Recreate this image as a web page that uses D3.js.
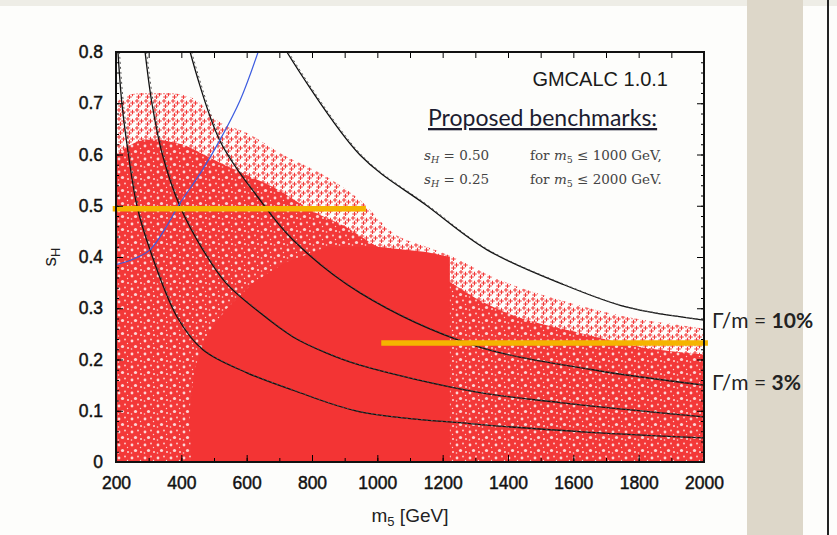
<!DOCTYPE html>
<html>
<head>
<meta charset="utf-8">
<script src="https://cdn.jsdelivr.net/npm/d3@7"></script>
<style>
  html, body { margin: 0; padding: 0; background: #fdfdfb; }
  svg { display: block; }
</style>
</head>
<body>
<svg id="chart" width="837" height="535"></svg>
<script>
// axis ticks
const xTicks = [200, 400, 600, 800, 1000, 1200, 1400, 1600, 1800, 2000];
const xMinor = d3.range(200, 2001, 100);
const yTicks = [0, 0.1, 0.2, 0.3, 0.4, 0.5, 0.6, 0.7, 0.8];
const yMinor = d3.range(0, 0.801, 0.02);

// upper edge of the scanned points (m5, sH)
const regionTop = [[200, 0.70], [230, 0.715], [280, 0.72], [356, 0.72], [436, 0.71], [509, 0.667],
  [601, 0.642], [702, 0.603], [846, 0.556], [947, 0.511], [1048, 0.447], [1150, 0.42],
  [1232, 0.40], [1354, 0.361], [1559, 0.316], [1764, 0.283], [1970, 0.263], [2000, 0.26]];
// below this the points fill most of the area
const midTop = [[200, 0.60], [300, 0.63], [400, 0.62], [500, 0.59], [600, 0.56], [700, 0.53],
  [800, 0.49], [900, 0.46], [1000, 0.42], [1100, 0.39], [1200, 0.36], [1300, 0.32], [1400, 0.29],
  [1600, 0.255], [1800, 0.225], [2000, 0.21]];
// nearly solid part
const denseZone = [[430, 0], [425, 0.1], [440, 0.18], [480, 0.25], [540, 0.30], [620, 0.35],
  [720, 0.39], [850, 0.42], [1000, 0.42], [1150, 0.41], [1222, 0.40], [1222, 0]];

// Gamma/m contour lines
const contour1 = [[206, 0.8], [218, 0.7], [238, 0.6], [264, 0.5], [304, 0.414], [387, 0.283],
  [466, 0.219], [601, 0.174], [742, 0.140], [947, 0.098], [1300, 0.074], [1650, 0.058], [2000, 0.047]];
const contour2 = [[289, 0.8], [310, 0.7], [342, 0.6], [395, 0.5], [466, 0.414], [537, 0.349],
  [641, 0.291], [742, 0.244], [843, 0.213], [947, 0.189], [1300, 0.137], [1559, 0.116], [2000, 0.088]];
const contour3 = [[427, 0.8], [518, 0.627], [641, 0.511], [742, 0.433], [947, 0.330], [1293, 0.228],
  [1660, 0.18], [2000, 0.150]];
const contour4 = [[723, 0.8], [947, 0.599], [1152, 0.5], [1336, 0.414], [1559, 0.349], [1764, 0.302],
  [2000, 0.277]];
const contours = [contour1, contour2, contour3, contour4];

// blue constraint line
const blueLine = [[200, 0.385], [250, 0.395], [304, 0.414], [350, 0.455], [396, 0.505], [460, 0.565],
  [518, 0.628], [580, 0.706], [635, 0.8]];

// proposed benchmark segments
const benchmarks = [{ from: 190, to: 965, s: 0.494 }, { from: 1012, to: 2012, s: 0.232 }];

const widthLabels = [{ s: 0.275, pre: "Γ/m = ", val: "10%" }, { s: 0.154, pre: "Γ/m = ", val: "3%" }];

const svg = d3.select("#chart");
const W = 837, H = 535;
const margin = { top: 52, left: 116, right: 133, bottom: 73 };

// page decoration
svg.append("rect").attr("width", W).attr("height", H).attr("fill", "#fdfdfb");
svg.append("rect").attr("width", W).attr("height", 6).attr("fill", "#eeede6");
svg.append("rect").attr("x", 747).attr("y", 0).attr("width", 56).attr("height", H).attr("fill", "#ddd7c9");
svg.append("rect").attr("x", 827).attr("y", 0).attr("width", 2).attr("height", H).attr("fill", "#222");

const x = d3.scaleLinear().domain([200, 2000]).range([margin.left, W - margin.right]);
const y = d3.scaleLinear().domain([0, 0.8]).range([H - margin.bottom, margin.top]);

const defs = svg.append("defs");
defs.append("clipPath").attr("id", "plotclip")
  .append("rect").attr("x", x(200)).attr("y", y(0.8)).attr("width", x(2000) - x(200)).attr("height", y(0) - y(0.8));

// loose crosses near the edge of the scan
const sparse = defs.append("pattern").attr("id", "sparse").attr("patternUnits", "userSpaceOnUse")
  .attr("width", 9).attr("height", 9);
[[2, 2], [6.5, 4], [3.5, 7]].forEach(([cx, cy]) => {
  sparse.append("path")
    .attr("d", `M${cx - 2.3},${cy}H${cx + 2.3}M${cx},${cy - 2.3}V${cy + 2.3}`)
    .attr("stroke", "#f33a3a").attr("stroke-width", 1.1);
});

// red with white speckles
const speck = defs.append("pattern").attr("id", "speck").attr("patternUnits", "userSpaceOnUse")
  .attr("width", 13).attr("height", 13);
speck.append("rect").attr("width", 13).attr("height", 13).attr("fill", "#f33838");
[[2, 3, 1.4], [8, 1.5, 0.9], [5.5, 8.5, 1.6], [11, 10, 1.0], [10.5, 5.5, 0.7], [1.5, 11, 0.8]].forEach(([cx, cy, r]) => {
  speck.append("circle").attr("cx", cx).attr("cy", cy).attr("r", r).attr("fill", "#fcd6d6");
});

const plot = svg.append("g").attr("clip-path", "url(#plotclip)");

const area = d3.area().x(d => x(d[0])).y0(y(0)).y1(d => y(d[1])).curve(d3.curveMonotoneX);
plot.append("path").datum(regionTop).attr("d", area).attr("fill", "url(#sparse)");
plot.append("path").datum(midTop).attr("d", area).attr("fill", "url(#speck)");
plot.append("path").datum(denseZone)
  .attr("d", d3.line().x(d => x(d[0])).y(d => y(d[1])).curve(d3.curveLinearClosed))
  .attr("fill", "#f33434");

const line = d3.line().x(d => x(d[0])).y(d => y(d[1])).curve(d3.curveCatmullRom);
plot.selectAll(".contour").data(contours).join("path")
  .attr("class", "contour")
  .attr("d", line).attr("fill", "none").attr("stroke", "#111").attr("stroke-width", 1.3);
plot.selectAll(".contourDash").data(contours).join("path")
  .attr("class", "contourDash")
  .attr("d", line).attr("fill", "none").attr("stroke", "#555").attr("stroke-width", 1)
  .attr("stroke-dasharray", "2 3").attr("transform", "translate(1.5,0)");

plot.append("path").datum(blueLine).attr("d", line)
  .attr("fill", "none").attr("stroke", "#3c5ce0").attr("stroke-width", 1.2);

// benchmark bars (not clipped, right one pokes past the frame)
svg.selectAll(".bench").data(benchmarks).join("line")
  .attr("class", "bench")
  .attr("x1", d => x(d.from)).attr("x2", d => x(d.to))
  .attr("y1", d => y(d.s)).attr("y2", d => y(d.s))
  .attr("stroke", "#f5b400").attr("stroke-width", 5.5);

// axes with inward ticks
const tickFont = g => g.selectAll("text")
  .attr("font-family", "Liberation Sans, Arial, sans-serif").attr("font-size", 17.5)
  .attr("fill", "#111").attr("stroke", "#111").attr("stroke-width", 0.45);

const fmtY = d => d === 0 ? "0" : d3.format(".1f")(d);
svg.append("g").attr("transform", `translate(${x(200)},0)`)
  .call(d3.axisLeft(y).tickValues(yTicks).tickSize(-7).tickPadding(13).tickFormat(fmtY))
  .call(tickFont).call(g => g.select(".domain").remove());
svg.append("g").attr("transform", `translate(${x(200)},0)`)
  .call(d3.axisLeft(y).tickValues(yMinor).tickSize(-3).tickFormat(""))
  .call(g => g.select(".domain").remove());
svg.append("g").attr("transform", `translate(${x(2000)},0)`)
  .call(d3.axisRight(y).tickValues(yTicks).tickSize(-7).tickFormat(""))
  .call(g => g.select(".domain").remove());
svg.append("g").attr("transform", `translate(${x(2000)},0)`)
  .call(d3.axisRight(y).tickValues(yMinor).tickSize(-3).tickFormat(""))
  .call(g => g.select(".domain").remove());
svg.append("g").attr("transform", `translate(0,${y(0)})`)
  .call(d3.axisBottom(x).tickValues(xTicks).tickSize(-7).tickPadding(15).tickFormat(d3.format("d")))
  .call(tickFont).call(g => g.select(".domain").remove());
svg.append("g").attr("transform", `translate(0,${y(0)})`)
  .call(d3.axisBottom(x).tickValues(xMinor).tickSize(-4).tickFormat(""))
  .call(g => g.select(".domain").remove());
svg.append("g").attr("transform", `translate(0,${y(0.8)})`)
  .call(d3.axisTop(x).tickValues(xMinor).tickSize(-6).tickFormat(""))
  .call(g => g.select(".domain").remove());

svg.append("rect").attr("x", x(200)).attr("y", y(0.8))
  .attr("width", x(2000) - x(200)).attr("height", y(0) - y(0.8))
  .attr("fill", "none").attr("stroke", "#111").attr("stroke-width", 2);

// axis titles
const ylab = svg.append("text").attr("transform", `translate(56,${y(0.4)}) rotate(-90)`)
  .attr("text-anchor", "middle").attr("font-family", "Liberation Sans, Arial, sans-serif")
  .attr("font-size", 19).attr("fill", "#222");
ylab.append("tspan").text("s");
ylab.append("tspan").attr("font-size", 13).attr("dy", 4).text("H");

const xlab = svg.append("text").attr("x", 410).attr("y", 522)
  .attr("text-anchor", "middle").attr("font-family", "Liberation Sans, Arial, sans-serif")
  .attr("font-size", 19).attr("fill", "#222");
xlab.append("tspan").text("m");
xlab.append("tspan").attr("font-size", 13).attr("dy", 4).text("5");
xlab.append("tspan").attr("dy", -4).text("  [GeV]");

// annotations
svg.append("text").attr("x", 668).attr("y", 86).attr("text-anchor", "end")
  .attr("font-family", "Liberation Sans, Arial, sans-serif").attr("font-size", 20)
  .attr("fill", "#1a1a1a").text("GMCALC 1.0.1");

svg.append("text").attr("x", 428).attr("y", 126)
  .attr("font-family", "Lato, Open Sans, sans-serif").attr("font-size", 23)
  .attr("fill", "#1c1c30").attr("text-decoration", "underline").text("Proposed benchmarks:");

const benchText = [["0.50", "1000 GeV,"], ["0.25", "2000 GeV."]];
benchText.forEach(([v, lim], i) => {
  const t = svg.append("text").attr("y", 160 + i * 24)
    .attr("font-family", "DejaVu Serif, Liberation Serif, serif").attr("font-size", 13.5).attr("fill", "#444");
  t.append("tspan").attr("x", 424).attr("font-style", "italic").text("s");
  t.append("tspan").attr("font-style", "italic").attr("font-size", 9.5).attr("dy", 3).text("H");
  t.append("tspan").attr("dy", -3).text(" = " + v);
  t.append("tspan").attr("x", 530).text("for ");
  t.append("tspan").attr("font-style", "italic").text("m");
  t.append("tspan").attr("font-size", 9.5).attr("dy", 3).text("5");
  t.append("tspan").attr("dy", -3).text(" ≤ " + lim);
});

widthLabels.forEach(d => {
  const t = svg.append("text").attr("x", 712).attr("y", y(d.s) + 7)
    .attr("font-family", "Lato, Open Sans, sans-serif").attr("font-size", 21).attr("fill", "#222");
  t.append("tspan").text(d.pre);
  t.append("tspan").attr("font-weight", "bold").text(d.val);
});
</script>
</body>
</html>
